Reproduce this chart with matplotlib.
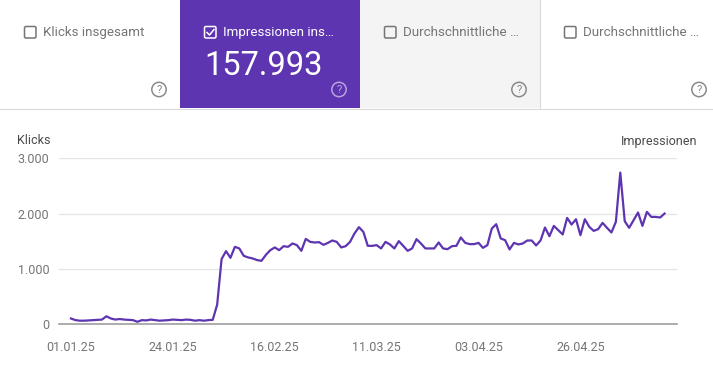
import numpy as np
import pandas as pd
import matplotlib
matplotlib.use("Agg")
import matplotlib.pyplot as plt
import matplotlib.dates as mdates
from matplotlib.patches import Rectangle, FancyBboxPatch, Circle

plt.rcParams['font.family'] = ['Roboto', 'DejaVu Sans']

# Daten: Impressionen pro Tag (01.01.25 - 15.05.25)
start_datum = "2025-01-01"
impressionen = [
    100, 70, 60, 60, 65, 70, 75, 80, 140, 100, 80, 90, 80, 75, 70, 40,
    70, 65, 80, 70, 60, 65, 70, 80, 75, 70, 80, 75, 60, 70, 60, 70, 75,
    350, 1175,
    1319, 1198, 1397, 1368, 1234, 1205, 1187, 1157, 1144, 1252, 1337, 1386,
    1337, 1409, 1397, 1458, 1428, 1325, 1541, 1487, 1476, 1482, 1433, 1469,
    1512, 1487, 1386, 1409, 1487,
    1639, 1753, 1668, 1415, 1415, 1428, 1368, 1487, 1440, 1368, 1500, 1415,
    1325, 1368, 1536, 1458, 1368, 1368, 1368, 1476, 1368, 1355, 1409, 1415,
    1567, 1469, 1446, 1446, 1469, 1379, 1428,
    1729, 1807, 1549, 1518, 1350, 1469, 1440, 1458, 1512, 1512, 1422, 1512,
    1747, 1590, 1776, 1699, 1621, 1921, 1801, 1897, 1608, 1897, 1759, 1686,
    1717, 1831, 1741, 1657, 1849, 2741, 1861, 1741, 1879, 2018, 1776, 2030,
    1939, 1939, 1928, 2000,
]
tage = pd.date_range(start_datum, periods=len(impressionen), freq="D")

x_ticks = ["2025-01-01", "2025-01-24", "2025-02-16", "2025-03-11", "2025-04-03", "2025-04-26"]
y_ticks = [0, 1000, 2000, 3000]
y_tick_labels = ["0", "1.000", "2.000", "3.000"]

karten_titel = ["Klicks insgesamt", "Impressionen ins…", "Durchschnittliche …", "Durchschnittliche …"]
gesamt_impressionen = "157.993"

lila = "#5e35b1"
grau_text = "#757575"

W, H = 713, 377
fig = plt.figure(figsize=(W / 100, H / 100), dpi=100)

# Overlay in Pixelkoordinaten fuer die Karten oben
ov = fig.add_axes([0, 0, 1, 1])
ov.set_xlim(0, W)
ov.set_ylim(H, 0)
ov.axis("off")

ov.add_patch(Rectangle((180, 0), 180, 108, color=lila, lw=0))
ov.add_patch(Rectangle((360, 0), 179.5, 108, color="#f4f4f4", lw=0))
ov.plot([539.5, 539.5], [0, 108], color="#dadada", lw=0.8)
ov.plot([0, W], [108.5, 108.5], color="#dadada", lw=0.8)

karten_x = [0, 180, 360, 540]
for i, (kx, titel) in enumerate(zip(karten_x, karten_titel)):
    aktiv = i == 1
    farbe = "white" if aktiv else grau_text
    ov.add_patch(FancyBboxPatch((kx + 24.5, 26.5), 11.5, 11.5,
                                boxstyle="round,pad=0,rounding_size=1.5",
                                fc="none", ec=farbe, lw=1.1))
    if aktiv:
        ov.plot([kx + 27, kx + 29.5, kx + 34], [32.5, 35, 29.5], color="white", lw=1.1)
    ov.text(kx + 43, 32.5, titel, color=farbe, fontsize=9.6, va="center", ha="left")
    # Hilfe-Symbol
    qx = kx + 159 if i < 3 else 699
    qfarbe = "#b7a4dd" if aktiv else "#8a8a8a"
    ov.add_patch(Circle((qx, 89.5), 7.2, fc="none", ec=qfarbe, lw=1.1))
    ov.text(qx, 90, "?", color=qfarbe, fontsize=8.2, ha="center", va="center")

ov.text(204, 66, gesamt_impressionen, color="white", fontsize=23.5, ha="left", va="center")

# Diagramm
ax = fig.add_axes([59 / W, (H - 324) / H, (677 - 59) / W, (324 - 158.3) / H])
ax.plot(tage, impressionen, color=lila, lw=1.6, solid_joinstyle="round", zorder=3)

ax.set_ylim(0, 3000)
ax.set_yticks(y_ticks)
ax.set_yticklabels(y_tick_labels)
x0 = pd.Timestamp(start_datum)
ax.set_xlim(x0 - pd.Timedelta(days=2.7), x0 + pd.Timedelta(days=136.8))
ax.set_xticks(pd.to_datetime(x_ticks))
ax.xaxis.set_major_formatter(mdates.DateFormatter("%d.%m.%y"))

ax.grid(axis="y", color="#e6e6e6", lw=1)
ax.set_axisbelow(True)
for s in ["top", "right", "left"]:
    ax.spines[s].set_visible(False)
ax.spines["bottom"].set_color("#9e9e9e")
ax.spines["bottom"].set_linewidth(1.2)
ax.tick_params(axis="both", length=0, labelsize=9, colors=grau_text)
ax.tick_params(axis="y", pad=7)
ax.tick_params(axis="x", pad=12)

ov.text(17, 141, "Klicks", color="#4a4a4a", fontsize=9, ha="left", va="center")
ov.text(697, 141, "Impressionen", color="#4a4a4a", fontsize=9, ha="right", va="center")

fig.savefig("out.png", dpi=100)
